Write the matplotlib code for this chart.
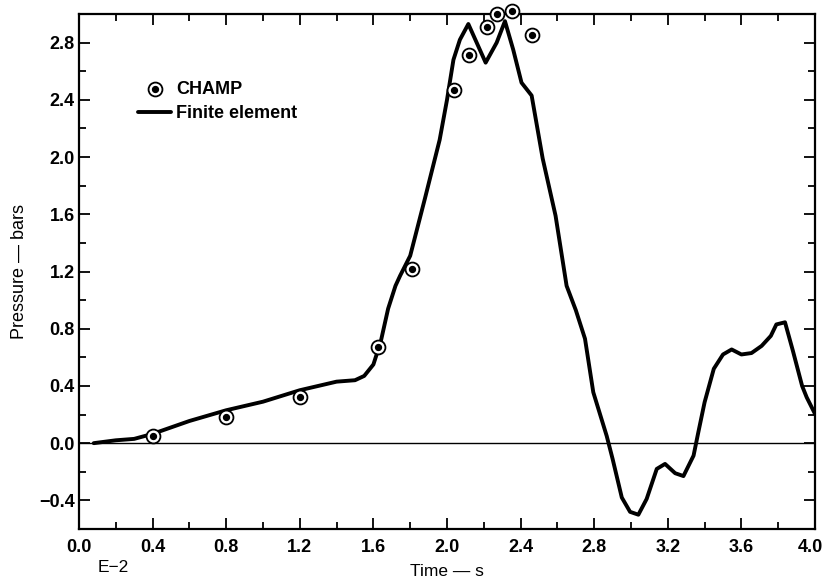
import matplotlib.pyplot as plt
from matplotlib.ticker import MultipleLocator
from matplotlib.transforms import offset_copy
import numpy as np

plt.rcParams['font.family'] = ['Liberation Sans', 'DejaVu Sans']

# CHAMP measurements
champ_time = [0.40, 0.80, 1.20, 1.625, 1.81, 2.04, 2.12, 2.215, 2.27, 2.355, 2.46]
champ_pressure = [0.05, 0.18, 0.32, 0.67, 1.22, 2.47, 2.71, 2.91, 3.00, 3.02, 2.855]

# finite element curve
fe_time = [0.08, 0.20, 0.30, 0.40, 0.50, 0.60, 0.80, 1.00, 1.20, 1.40, 1.50, 1.55,
           1.60, 1.64, 1.68, 1.72, 1.745, 1.80, 1.88, 1.96, 2.00, 2.035, 2.07, 2.116,
           2.21, 2.27, 2.315, 2.36, 2.405, 2.46, 2.52, 2.59, 2.65, 2.70, 2.75, 2.795,
           2.868, 2.90, 2.95, 2.995, 3.04, 3.085, 3.14, 3.185, 3.24, 3.285, 3.34, 3.366,
           3.40, 3.45, 3.50, 3.547, 3.60, 3.655, 3.71, 3.76, 3.79, 3.837, 3.88, 3.93,
           3.955, 4.00]
fe_pressure = [0.0, 0.02, 0.03, 0.065, 0.11, 0.155, 0.23, 0.29, 0.37, 0.43, 0.44, 0.47,
               0.55, 0.71, 0.94, 1.10, 1.17, 1.31, 1.71, 2.12, 2.40, 2.68, 2.82, 2.93,
               2.66, 2.80, 2.95, 2.75, 2.52, 2.43, 1.99, 1.59, 1.10, 0.93, 0.73, 0.356,
               0.05, -0.11, -0.38, -0.48, -0.50, -0.39, -0.18, -0.145, -0.21, -0.23, -0.087, 0.077,
               0.286, 0.52, 0.62, 0.655, 0.62, 0.63, 0.68, 0.75, 0.83, 0.845, 0.645, 0.40,
               0.32, 0.205]

x_ticks = np.arange(0.0, 4.01, 0.4)
y_ticks = np.arange(-0.4, 2.81, 0.4)

fig = plt.figure(figsize=(8.24, 5.86), dpi=100)
ax = fig.add_axes([79 / 824, 1 - 529 / 586, (815 - 79) / 824, (529 - 14) / 586])

ax.axhline(0, color='black', lw=1.0, zorder=1)
line, = ax.plot(fe_time, fe_pressure, color='black', lw=2.8, solid_joinstyle='round',
                solid_capstyle='round', zorder=2)
outer = ax.scatter(champ_time, champ_pressure, s=100, facecolor='white', edgecolor='black',
                   linewidths=1.3, zorder=3, clip_on=False)
inner = ax.scatter(champ_time, champ_pressure, s=18, color='black', zorder=4, clip_on=False)

ax.set_xlim(0, 4.0)
ax.set_ylim(-0.6, 3.0)
ax.set_xticks(x_ticks)
ax.set_yticks(y_ticks)
ax.set_xticklabels([f'{v:.1f}' for v in x_ticks])
ax.set_yticklabels([f'{v:.1f}'.replace('-', '\u2212') for v in y_ticks])
ax.xaxis.set_minor_locator(MultipleLocator(0.2))
ax.yaxis.set_minor_locator(MultipleLocator(0.2))
ax.tick_params(which='both', direction='in', top=True, right=True, width=1.3)
ax.tick_params(which='major', length=8, labelsize=13)
ax.tick_params(which='minor', length=5)
ax.tick_params(axis='x', pad=7)
ax.tick_params(axis='y', pad=3)
for lab in ax.get_xticklabels() + ax.get_yticklabels():
    lab.set_fontweight('bold')
# last x label sits against the right edge of the page
last = ax.get_xticklabels()[-1]
last.set_transform(offset_copy(last.get_transform(), fig=fig, x=-5, units='dots'))
for sp in ax.spines.values():
    sp.set_linewidth(1.6)

ax.set_xlabel('Time \u2014 s', fontsize=12.5, labelpad=6)
ax.set_ylabel('Pressure \u2014 bars', fontsize=13, labelpad=8)
ax.text(0.025, -0.075, 'E\u22122', transform=ax.transAxes, fontsize=12.5, ha='left', va='center')

leg = ax.legend([(outer, inner), line], ['CHAMP', 'Finite element'],
                loc='upper left', bbox_to_anchor=(0.058, 0.902), frameon=False,
                handlelength=1.85, handletextpad=0.25, labelspacing=0.4,
                prop={'size': 13, 'weight': 'bold'})

fig.savefig('out.png', dpi=100)
